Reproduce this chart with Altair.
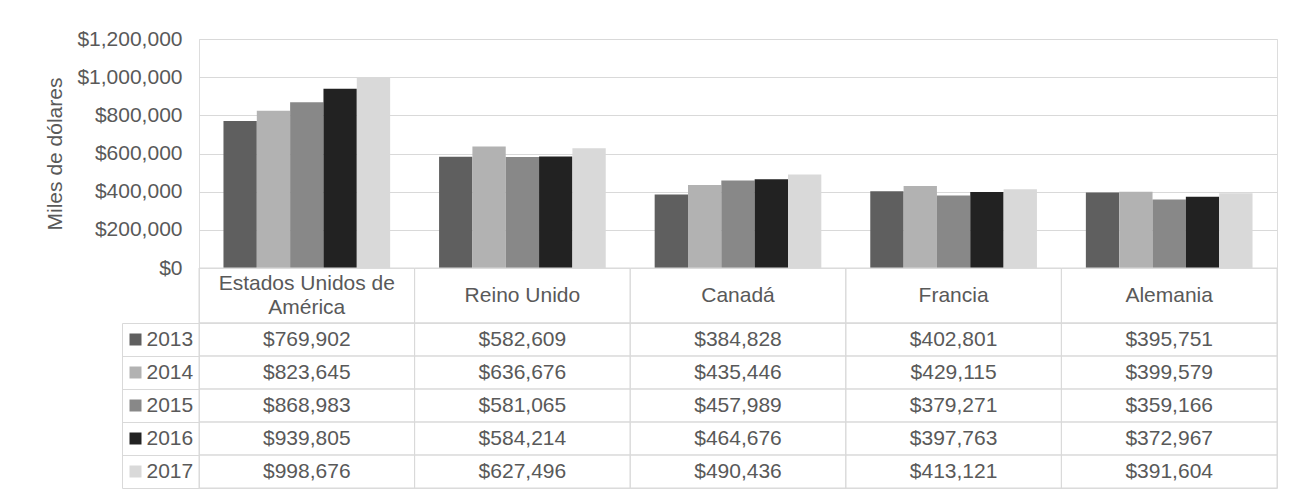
import altair as alt
import pandas as pd

countries = ["Estados Unidos de América", "Reino Unido", "Canadá", "Francia", "Alemania"]
header_lines = [["Estados Unidos de", "América"], ["Reino Unido"], ["Canadá"], ["Francia"], ["Alemania"]]
years = ["2013", "2014", "2015", "2016", "2017"]
colors = ["#5f5f5f", "#b2b2b2", "#888888", "#222222", "#d9d9d9"]

v2013 = [769902, 582609, 384828, 402801, 395751]
v2014 = [823645, 636676, 435446, 429115, 399579]
v2015 = [868983, 581065, 457989, 379271, 359166]
v2016 = [939805, 584214, 464676, 397763, 372967]
v2017 = [998676, 627496, 490436, 413121, 391604]
series = [v2013, v2014, v2015, v2016, v2017]

y_ticks = [0, 200000, 400000, 600000, 800000, 1000000, 1200000]

rows = []
for yr, vals in zip(years, series):
    for c, v in zip(countries, vals):
        rows.append({"country": c, "year": yr, "value": v})
df = pd.DataFrame(rows)

hdr_rows = []
for c, lines in zip(countries, header_lines):
    n = len(lines)
    for i, t in enumerate(lines):
        hdr_rows.append({"country": c, "label": t, "line": i - (n - 1) / 2})
hdr = pd.DataFrame(hdr_rows)
hdr_box_df = pd.DataFrame({"country": countries})

FONT = "Liberation Sans"
TXT = "#595959"
GRID = "#d9d9d9"
FS = 21

W = 1078
HDR_H = 55
LINE_H = 24

x_bars = alt.X("country:N", sort=countries, axis=None,
               scale=alt.Scale(paddingInner=0.227, paddingOuter=0.1135))

bars = alt.Chart(df).mark_bar().encode(
    x=x_bars,
    xOffset=alt.XOffset("year:N", sort=years, scale=alt.Scale(paddingInner=0, paddingOuter=0)),
    y=alt.Y("value:Q", scale=alt.Scale(domain=[0, 1200000], nice=False),
            axis=alt.Axis(values=y_ticks, format="$,.0f", title="Miles de dólares",
                          labelFontSize=FS, labelColor=TXT, labelFont=FONT,
                          titleFontSize=FS, titleColor=TXT, titleFont=FONT,
                          titleFontWeight="normal", titlePadding=11,
                          labelPadding=17, ticks=False, domain=False,
                          grid=True, gridColor=GRID, gridWidth=1)),
    color=alt.Color("year:N", sort=years, scale=alt.Scale(domain=years, range=colors), legend=None),
).properties(width=W, height=229)

x_tab = alt.X("country:N", sort=countries, axis=None,
              scale=alt.Scale(paddingInner=0, paddingOuter=0))

half = HDR_H / 2 / LINE_H
hdr_box = alt.Chart(hdr_box_df).mark_rect(fillOpacity=0, stroke=GRID, strokeWidth=1).encode(x=x_tab)
hdr_txt = alt.Chart(hdr).mark_text(font=FONT, fontSize=FS, color=TXT, baseline="middle").encode(
    x=x_tab,
    y=alt.Y("line:Q", axis=None, scale=alt.Scale(domain=[half, -half], nice=False, zero=False)),
    text="label:N")
header = alt.layer(hdr_box, hdr_txt).properties(width=W, height=HDR_H)

tick_expr = " : ".join(f"datum.value == '{y}' ? '{c}'" for y, c in zip(years[:-1], colors[:-1])) + f" : '{colors[-1]}'"

y_grid = alt.Y("year:N", sort=years, scale=alt.Scale(paddingInner=0, paddingOuter=0),
               axis=alt.Axis(orient="left", title=None, labels=False, domain=False,
                             ticks=True, tickBand="extent", tickSize=77,
                             tickColor=GRID, tickWidth=1))
y_border = alt.Y("year:N", sort=years,
                 axis=alt.Axis(orient="left", title=None, labels=False, ticks=False,
                               domain=True, domainColor=GRID, domainWidth=1, offset=77))
y_legend = alt.Y("year:N", sort=years,
                 axis=alt.Axis(orient="left", title=None, domain=False, offset=58,
                               ticks=True, tickSize=12, tickWidth=12,
                               tickColor=alt.ExprRef(expr=tick_expr),
                               labelPadding=-17, labelAlign="left",
                               labelFontSize=FS, labelColor=TXT, labelFont=FONT))

cells = alt.Chart(df).mark_rect(fillOpacity=0, stroke=GRID, strokeWidth=1).encode(
    x=x_tab, y=y_grid)
cell_txt = alt.Chart(df).mark_text(font=FONT, fontSize=FS, color=TXT, baseline="middle").encode(
    x=x_tab, y=y_border, text=alt.Text("value:Q", format="$,.0f"))
leg_layer = alt.Chart(df).mark_text(opacity=0).encode(
    x=x_tab, y=y_legend, text=alt.Text("value:Q", format="$,.0f"))

table = alt.layer(cells, cell_txt, leg_layer).resolve_axis(y="independent").properties(
    width=W, height=165)

chart = alt.vconcat(bars, header, table, spacing=0, bounds="flush").properties(
    padding={"left": 44, "top": 27, "right": 18, "bottom": 4}
).configure_view(stroke=None).configure(font=FONT)

chart.save("out.html", embed_options={"renderer": "svg", "actions": False})
